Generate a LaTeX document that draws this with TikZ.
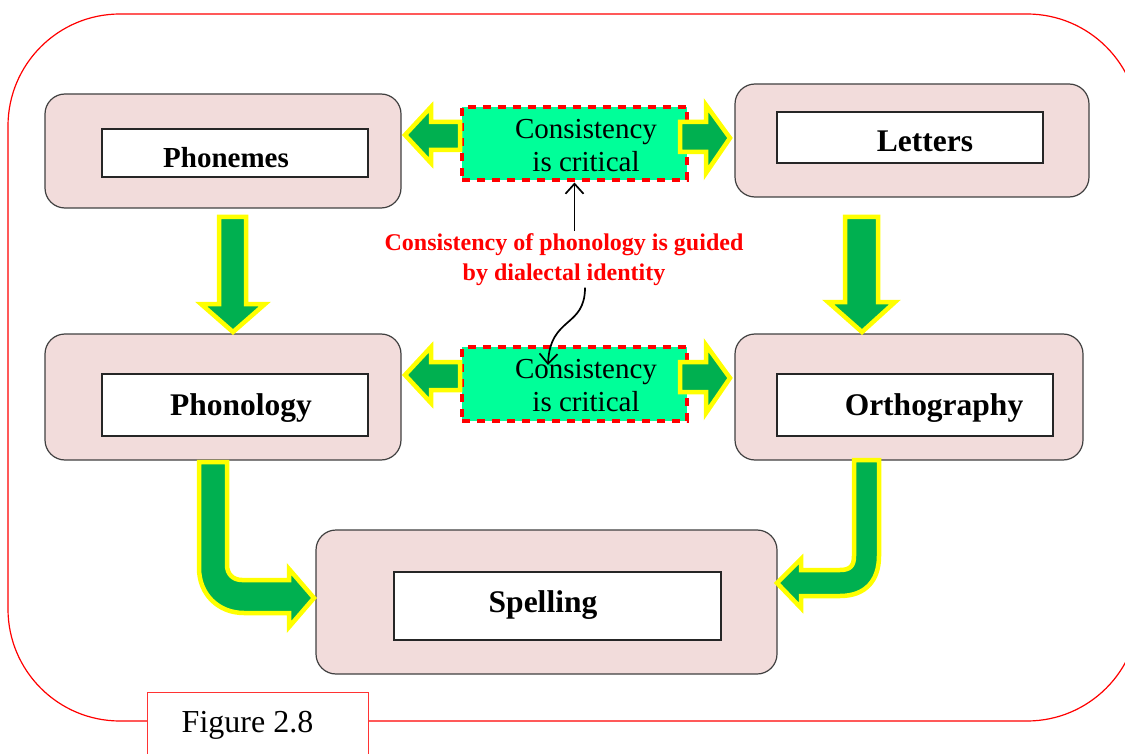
\documentclass[tikz,border=0pt]{standalone}
\usepackage{fontspec}
\setmainfont{Liberation Serif}
\usetikzlibrary{arrows.meta,calc}

\definecolor{panelfill}{HTML}{F2DCDB}
\definecolor{panelline}{HTML}{404040}
\definecolor{flowgreen}{HTML}{00B050}
\definecolor{flowyellow}{HTML}{FFFF00}
\definecolor{keyfill}{HTML}{00FF99}
\definecolor{alertred}{HTML}{FF0000}

\begin{document}
\begin{tikzpicture}[x=1pt,y=-1pt,
  panel/.style={draw=panelline, line width=1.2pt, fill=panelfill, rounded corners=20pt, inner sep=0pt},
  labelbox/.style={draw=black!85, line width=1.4pt, fill=white, inner sep=0pt},
  heading/.style={font=\fontsize{31.5}{34}\selectfont\bfseries, anchor=base, inner sep=0pt},
  keybox/.style={draw=alertred, line width=4pt, dash pattern=on 8pt off 7pt, fill=keyfill, inner sep=0pt},
  keytext/.style={font=\fontsize{29}{33}\selectfont, align=center, inner sep=0pt},
  blockarrow/.style={fill=flowgreen, draw=flowyellow, line width=4.5pt, line join=miter, miter limit=10},
  pointer/.style={draw=black, line width=1.7pt, -{Straight Barb[length=10pt,width=18pt]}},
]
\useasboundingbox (0,0) rectangle (1125,754);

% outer frame and figure caption tab
\begin{scope}
  \clip (0,0) rectangle (1125,754);
  \draw[alertred, line width=1.2pt, rounded corners=112pt] (8,14) rectangle (1139,721);
  \node[draw=alertred!80, line width=1.2pt, fill=white, minimum width=221pt, minimum height=80pt,
        anchor=north west, inner sep=0pt] (figbox) at (147,692) {};
\end{scope}
\node[font=\fontsize{32}{36}\selectfont, anchor=base, inner sep=0pt] (figtext) at (247.5,732.5) {Figure 2.8};

% panels
\node[panel, minimum width=356pt, minimum height=114pt] (phonemes) at (223,151) {};
\node[panel, minimum width=354pt, minimum height=113pt] (letters) at (912,140.5) {};
\node[panel, minimum width=356pt, minimum height=126pt] (phonology) at (223,397) {};
\node[panel, minimum width=348pt, minimum height=126pt] (orthography) at (909,397) {};
\node[panel, minimum width=461pt, minimum height=144pt] (spelling) at (546.5,602) {};

% white label boxes inside the panels
\node[labelbox, minimum width=266pt, minimum height=48pt] (phonemesbox) at (235,153) {};
\node[labelbox, minimum width=266pt, minimum height=51pt] (lettersbox) at (910,137.5) {};
\node[labelbox, minimum width=266pt, minimum height=62pt] (phonologybox) at (235,405) {};
\node[labelbox, minimum width=276pt, minimum height=62pt] (orthographybox) at (915,405) {};
\node[labelbox, minimum width=327pt, minimum height=68pt] (spellingbox) at (557.5,606) {};

% consistency boxes
\node[keybox, minimum width=225pt, minimum height=73.5pt] (cons1) at (574.5,143.75) {};
\node[keybox, minimum width=225pt, minimum height=73.5pt] (cons2) at (574.5,383.75) {};

% horizontal block arrows
\draw[blockarrow] (460,122) -- (431,122) -- (431,107) -- (405,135) -- (431,163) -- (431,150) -- (460,150) -- cycle;
\draw[blockarrow] (680,122) -- (706,122) -- (706,105) -- (730,138) -- (706,173) -- (706,152) -- (680,152) -- cycle;
\draw[blockarrow] (460,362) -- (431,362) -- (431,347) -- (405,375) -- (431,403) -- (431,390) -- (460,390) -- cycle;
\draw[blockarrow] (680,362) -- (706,362) -- (706,345) -- (730,378) -- (706,413) -- (706,392) -- (680,392) -- cycle;

% vertical block arrows
\draw[blockarrow] (219,217) -- (246,217) -- (246,304) -- (265,304) -- (233,332) -- (201,304) -- (219,304) -- cycle;
\draw[blockarrow] (845,217) -- (878,217) -- (878,302) -- (895,302) -- (862,332) -- (828,302) -- (845,302) -- cycle;

% bent block arrows into Spelling
\draw[blockarrow] (199,462) -- (227,462) -- (227,565) .. controls (227,574) and (233,580) .. (242,580)
  -- (289,580) -- (289,569) -- (314,598) -- (289,627) -- (289,613) -- (244,613)
  .. controls (218,613) and (199,594) .. (199,568) -- cycle;
\draw[blockarrow] (854,460) -- (879,460) -- (879,556) .. controls (879,580) and (866,596) .. (840,596)
  -- (801,596) -- (801,608) -- (777,583) -- (801,559) -- (801,570) -- (840,570)
  .. controls (850,570) and (854,566) .. (854,556) -- cycle;

% texts
\node[heading, font=\fontsize{29}{32}\selectfont\bfseries] (phonemestext) at (226,168) {Phonemes};
\node[heading] (letterstext) at (925,152) {Letters};
\node[heading] (phonologytext) at (241,415) {Phonology};
\node[heading] (orthographytext) at (934,415) {Orthography};
\node[heading] (spellingtext) at (543,612.5) {Spelling};
\node[keytext] (cons1text) at (586,145.7) {Consistency\\is critical};
\node[keytext] (cons2text) at (586,385.7) {Consistency\\is critical};

% note on phonology with its pointers
\node[font=\fontsize{24}{30}\selectfont\bfseries, text=alertred, align=center, inner sep=2pt]
  (note) at (564,259.4) {Consistency of phonology is guided\\by dialectal identity};
\draw[pointer] (note.north -| cons1.south) -- (cons1.south);
\coordinate (curlstart) at ($(note.south)+(21,0)$);
\coordinate (curlend) at (548,365);
\draw[pointer] (curlstart) .. controls (585,328) and (550,316) .. (curlend);

\end{tikzpicture}
\end{document}
